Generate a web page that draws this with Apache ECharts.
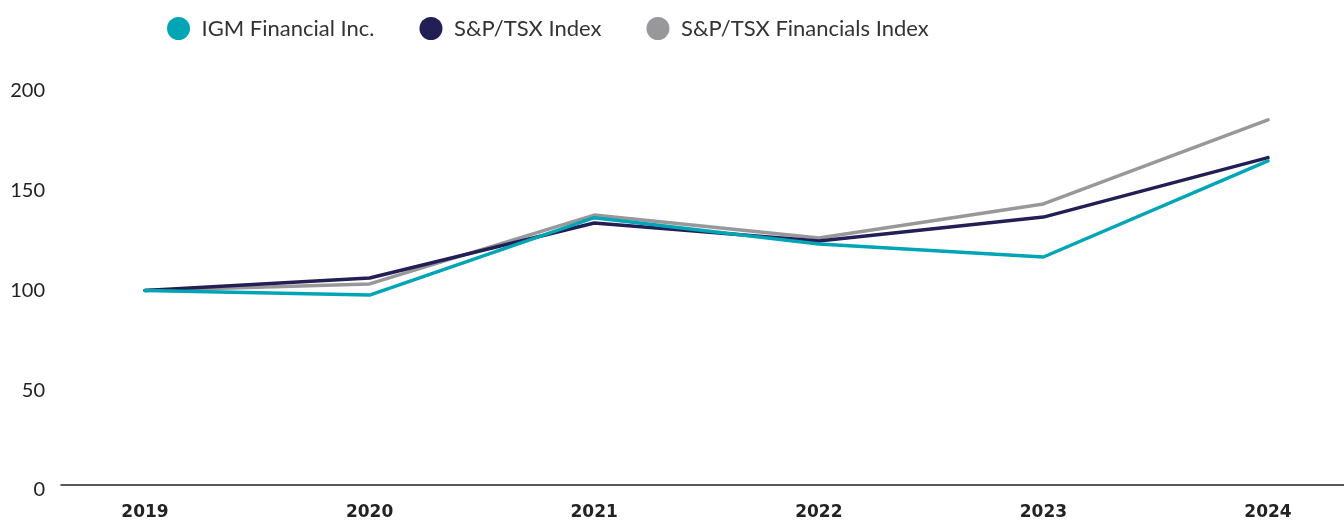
<!DOCTYPE html>
<html>
<head>
<meta charset="utf-8">
<script src="https://cdn.jsdelivr.net/npm/echarts@6/dist/echarts.min.js"></script>
<style>
  html, body { margin: 0; padding: 0; background: #fff; }
  #main { width: 1344px; height: 523px; }
</style>
</head>
<body>
<div id="main"></div>
<script>
// data
const years = ["2019", "2020", "2021", "2022", "2023", "2024"];
const igm = [100, 97.7, 136.5, 123.3, 116.8, 165];
const tsx = [100, 106.3, 133.8, 124.8, 136.8, 166.6];
const tsxFin = [100, 103.3, 137.8, 126.3, 143.4, 185.5];
const yTicks = [0, 50, 100, 150, 200];

const chart = echarts.init(document.getElementById("main"));

const lineSeries = (name, data, color, z) => ({
  name: name,
  type: "line",
  xAxisIndex: 0,
  yAxisIndex: 0,
  data: data,
  symbol: "none",
  z: z,
  lineStyle: { color: color, width: 3.5, cap: "round", join: "round" },
  itemStyle: { color: color },
});

const option = {
  animation: false,
  legend: {
    top: 12,
    left: 162,
    icon: "circle",
    itemWidth: 24,
    itemHeight: 23,
    itemGap: 45,
    textStyle: {
      fontFamily: "Lato",
      fontSize: 22,
      color: "#333",
      padding: [0, 0, 0, 6],
    },
    data: ["IGM Financial Inc.", "S&P/TSX Index", "S&P/TSX Financials Index"],
  },
  grid: [
    { left: 145, right: 76, top: 91, bottom: 33 },
    { left: 61, right: 0, top: 91, bottom: 33 },
  ],
  xAxis: [
    {
      type: "category",
      gridIndex: 0,
      data: years,
      boundaryGap: false,
      axisLine: { show: false },
      axisTick: { show: false },
      axisLabel: {
        margin: 14,
        fontFamily: "DejaVu Sans",
        fontWeight: "bold",
        fontSize: 17,
        color: "#222",
      },
    },
    {
      type: "value",
      gridIndex: 1,
      min: 0,
      max: 1,
      offset: -5,
      axisLine: { show: true, lineStyle: { color: "#222", width: 1.5 } },
      axisTick: { show: false },
      axisLabel: { show: false },
      splitLine: { show: false },
    },
  ],
  yAxis: [
    {
      type: "value",
      gridIndex: 0,
      min: yTicks[0],
      max: yTicks[yTicks.length - 1],
      interval: 50,
      axisLine: { show: false },
      axisTick: { show: false },
      axisLabel: { show: false },
      splitLine: { show: false },
    },
    {
      type: "value",
      gridIndex: 1,
      min: yTicks[0],
      max: yTicks[yTicks.length - 1],
      interval: 50,
      axisLine: { show: false },
      axisTick: { show: false },
      splitLine: { show: false },
      axisLabel: {
        margin: 16,
        fontFamily: "Lato",
        fontSize: 20,
        color: "#222",
      },
    },
  ],
  series: [
    lineSeries("IGM Financial Inc.", igm, "#00A5B5", 5),
    lineSeries("S&P/TSX Index", tsx, "#221F55", 4),
    lineSeries("S&P/TSX Financials Index", tsxFin, "#98989B", 3),
  ],
};

chart.setOption(option);
</script>
</body>
</html>
